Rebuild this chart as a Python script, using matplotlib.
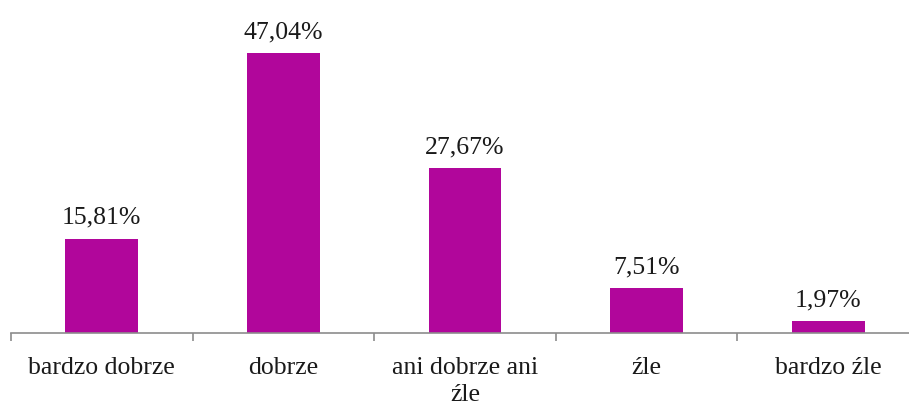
import numpy as np
import matplotlib.pyplot as plt

categories = ['bardzo dobrze', 'dobrze', 'ani dobrze ani\nźle', 'źle', 'bardzo źle']
values = [15.81, 47.04, 27.67, 7.51, 1.97]

plt.rcParams['font.family'] = ['Liberation Serif', 'DejaVu Serif']

fig = plt.figure(figsize=(9.09, 4.01), dpi=100)
# axis runs a bit past the right edge, like the original
ax = fig.add_axes([11/909, 68/401, 908/909, 333/401])

x = np.arange(len(values))
ax.bar(x, values, width=0.4, color='#B1069B')
for xi, v in zip(x, values):
    ax.text(xi, v + 1.7, ('%.2f' % v).replace('.', ',') + '%',
            ha='center', va='bottom', fontsize=18.5, color='#1a1a1a')

ax.set_xlim(-0.5, len(values) - 0.5)
ax.set_ylim(0, 56)
ax.set_yticks([])
for each in ('top', 'right', 'left'):
    ax.spines[each].set_visible(False)
ax.spines['bottom'].set_color('#8c8c8c')
ax.spines['bottom'].set_linewidth(1.2)

ax.set_xticks(np.arange(len(values) + 1) - 0.5, minor=False)
ax.set_xticklabels([])
ax.tick_params(axis='x', which='major', length=6, width=1.2, color='#8c8c8c')
ax.set_xticks(x, minor=True)
ax.set_xticklabels(categories, minor=True, fontsize=18.5, color='#1a1a1a',
                   va='top', linespacing=1.3)
ax.tick_params(axis='x', which='minor', length=0, pad=17)

fig.savefig('out.png', dpi=100)
